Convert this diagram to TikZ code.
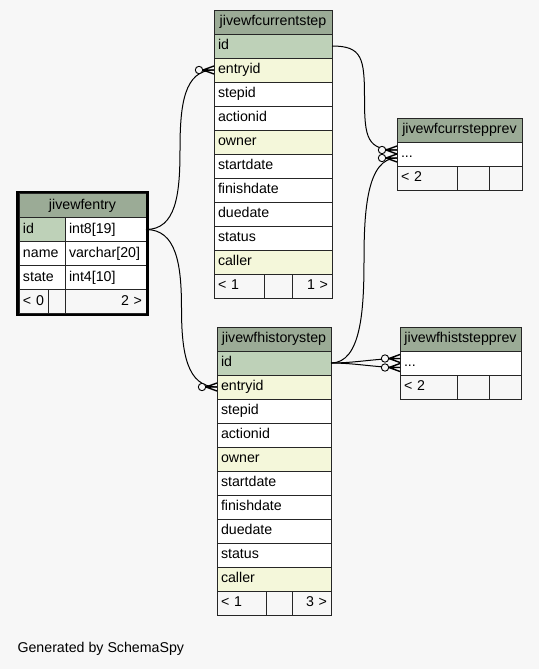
\documentclass[tikz,border=0pt]{standalone}
\usepackage{fontspec}
\setmainfont{Liberation Sans}
\usepackage{xcolor}
\usetikzlibrary{positioning, calc, fit}

\definecolor{bgcol}{HTML}{F7F7F7}
\definecolor{headcol}{HTML}{9BAB96}
\definecolor{keycol}{HTML}{BED1B8}
\definecolor{idxcol}{HTML}{F4F7DA}

% open circle + crow's foot at the child end of a relation
\newcommand{\crowfoot}[1]{%
  \draw[line width=0.9pt, fill=bgcol] ($(#1)+(-15,0)$) circle (3.7pt);
  \draw[line width=1.4pt] ($(#1)+(-11,0)$) -- ($(#1)+(0,-4)$)
    ($(#1)+(-11,0)$) -- (#1)
    ($(#1)+(-11,0)$) -- ($(#1)+(0,4)$);
}

\begin{document}
\begin{tikzpicture}[
    x=1pt, y=-1pt,
    cell/.style={rectangle, draw=black!85, line width=0.8pt, fill=white, outer sep=0pt, inner xsep=4pt, inner ysep=0pt, minimum height=24pt, text height=10pt, text depth=3pt, align=left, font=\fontsize{14.2}{17}\selectfont},
    head/.style={cell, fill=headcol, align=center},
    key/.style={cell, fill=keycol},
    idx/.style={cell, fill=idxcol},
    foot/.style={cell, fill=bgcol},
    conn/.style={line width=1pt},
    curcol/.style={text width=110pt},
    histcol/.style={text width=106pt}
]
    \fill[bgcol] (0,0) rectangle (539,669);
    \useasboundingbox (0,0) rectangle (539,669);

    % jivewfentry
    \node[head, text width=119pt, anchor=north west] (ent-head) at (19,193.5) {jivewfentry};
    \node[key, text width=38pt, anchor=north west] (ent-id) at (ent-head.south west) {id};
    \node[cell, text width=73pt, right=0pt of ent-id] (ent-idtype) {int8[19]};
    \node[cell, text width=38pt, below=0pt of ent-id] (ent-name) {name};
    \node[cell, text width=73pt, right=0pt of ent-name] (ent-nametype) {varchar[20]};
    \node[cell, text width=38pt, below=0pt of ent-name] (ent-state) {state};
    \node[cell, text width=73pt, right=0pt of ent-state] (ent-statetype) {int4[10]};
    \node[foot, text width=21pt, anchor=north west] (ent-f1) at (ent-state.south west) {< 0};
    \node[foot, text width=9pt, right=0pt of ent-f1] (ent-f2) {};
    \node[foot, text width=73pt, align=right, right=0pt of ent-f2] (ent-f3) {2 >};
    \node[draw=black, line width=2.5pt, fit=(ent-head)(ent-f3), inner sep=1.5pt] (ent-frame) {};

    % jivewfcurrentstep
    \node[head, curcol, anchor=north west] (cur-head) at (214,10) {jivewfcurrentstep};
    \node[key, curcol, below=0pt of cur-head] (cur-id) {id};
    \node[idx, curcol, below=0pt of cur-id] (cur-entryid) {entryid};
    \node[cell, curcol, below=0pt of cur-entryid] (cur-stepid) {stepid};
    \node[cell, curcol, below=0pt of cur-stepid] (cur-actionid) {actionid};
    \node[idx, curcol, below=0pt of cur-actionid] (cur-owner) {owner};
    \node[cell, curcol, below=0pt of cur-owner] (cur-startdate) {startdate};
    \node[cell, curcol, below=0pt of cur-startdate] (cur-finishdate) {finishdate};
    \node[cell, curcol, below=0pt of cur-finishdate] (cur-duedate) {duedate};
    \node[cell, curcol, below=0pt of cur-duedate] (cur-status) {status};
    \node[idx, curcol, below=0pt of cur-status] (cur-caller) {caller};
    \node[foot, text width=42pt, anchor=north west] (cur-f1) at (cur-caller.south west) {< 1};
    \node[foot, text width=20pt, right=0pt of cur-f1] (cur-f2) {};
    \node[foot, text width=32pt, align=right, right=0pt of cur-f2] (cur-f3) {1 >};

    % jivewfhistorystep
    \node[head, histcol, anchor=north west] (hist-head) at (217,327) {jivewfhistorystep};
    \node[key, histcol, below=0pt of hist-head] (hist-id) {id};
    \node[idx, histcol, below=0pt of hist-id] (hist-entryid) {entryid};
    \node[cell, histcol, below=0pt of hist-entryid] (hist-stepid) {stepid};
    \node[cell, histcol, below=0pt of hist-stepid] (hist-actionid) {actionid};
    \node[idx, histcol, below=0pt of hist-actionid] (hist-owner) {owner};
    \node[cell, histcol, below=0pt of hist-owner] (hist-startdate) {startdate};
    \node[cell, histcol, below=0pt of hist-startdate] (hist-finishdate) {finishdate};
    \node[cell, histcol, below=0pt of hist-finishdate] (hist-duedate) {duedate};
    \node[cell, histcol, below=0pt of hist-duedate] (hist-status) {status};
    \node[idx, histcol, below=0pt of hist-status] (hist-caller) {caller};
    \node[foot, text width=41pt, anchor=north west] (hist-f1) at (hist-caller.south west) {< 1};
    \node[foot, text width=18pt, right=0pt of hist-f1] (hist-f2) {};
    \node[foot, text width=31pt, align=right, right=0pt of hist-f2] (hist-f3) {3 >};

    % jivewfcurrstepprev
    \node[head, text width=117pt, anchor=north west] (cprev-head) at (397,118) {jivewfcurrstepprev};
    \node[cell, text width=117pt, below=0pt of cprev-head] (cprev-dots) {...};
    \node[foot, text width=52pt, anchor=north west] (cprev-f1) at (cprev-dots.south west) {< 2};
    \node[foot, text width=24pt, right=0pt of cprev-f1] (cprev-f2) {};
    \node[foot, text width=25pt, right=0pt of cprev-f2] (cprev-f3) {};

    % jivewfhiststepprev
    \node[head, text width=113pt, anchor=north west] (hprev-head) at (400,327) {jivewfhiststepprev};
    \node[cell, text width=113pt, below=0pt of hprev-head] (hprev-dots) {...};
    \node[foot, text width=49pt, anchor=north west] (hprev-f1) at (hprev-dots.south west) {< 2};
    \node[foot, text width=24pt, right=0pt of hprev-f1] (hprev-f2) {};
    \node[foot, text width=24pt, right=0pt of hprev-f2] (hprev-f3) {};

    % Relation ends
    \coordinate (cprev-a) at ($(cprev-dots.west)+(0,-4)$);
    \coordinate (cprev-b) at ($(cprev-dots.west)+(0,4)$);
    \coordinate (hprev-a) at ($(hprev-dots.west)+(0,-4.5)$);
    \coordinate (hprev-b) at ($(hprev-dots.west)+(0,4.5)$);

    % Relations
    \draw[conn] (ent-idtype.east) .. controls +(30,0) and +(0,45) .. ($(ent-idtype.east)!0.5!(cur-entryid.west)$)
        .. controls +(0,-45) and +(-30,0) .. (cur-entryid.west);
    \draw[conn] (ent-idtype.east) .. controls +(30,0) and +(0,-45) .. ($(ent-idtype.east)!0.5!(hist-entryid.west)$)
        .. controls +(0,45) and +(-30,0) .. (hist-entryid.west);
    \draw[conn] (cur-id.east) .. controls +(30,0) and +(0,-40) .. ($(cur-id.east)!0.5!(cprev-a)$)
        .. controls +(0,40) and +(-30,0) .. (cprev-a);
    \draw[conn] (hist-id.east) .. controls +(30,0) and +(0,50) .. ($(hist-id.east)!0.5!(cprev-b)$)
        .. controls +(0,-50) and +(-30,0) .. (cprev-b);
    \draw[conn] (hist-id.east) .. controls +(25,0) and +(-25,0) .. (hprev-a);
    \draw[conn] (hist-id.east) .. controls +(25,0) and +(-25,0) .. (hprev-b);
    \crowfoot{cur-entryid.west}
    \crowfoot{hist-entryid.west}
    \crowfoot{cprev-a}
    \crowfoot{cprev-b}
    \crowfoot{hprev-a}
    \crowfoot{hprev-b}

    % Footer
    \node[anchor=west, font=\fontsize{14.2}{17}\selectfont] (credit) at (14,649) {Generated by SchemaSpy};
\end{tikzpicture}
\end{document}
